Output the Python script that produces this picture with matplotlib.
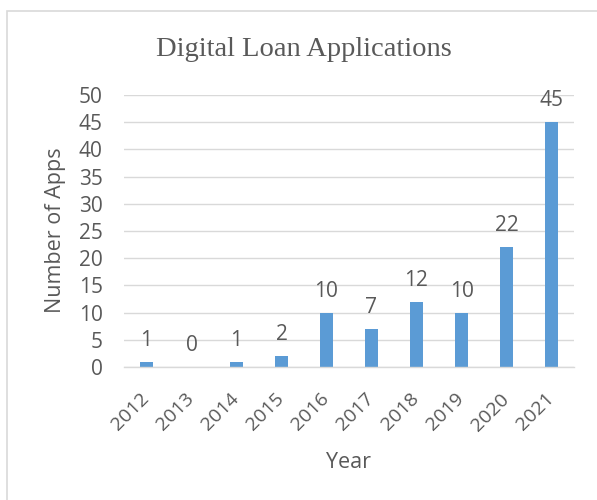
import matplotlib
matplotlib.use("Agg")
import matplotlib.pyplot as plt
from matplotlib.patches import Rectangle

years = ["2012", "2013", "2014", "2015", "2016", "2017", "2018", "2019", "2020", "2021"]
apps = [1, 0, 1, 2, 10, 7, 12, 10, 22, 45]
y_ticks = [0, 5, 10, 15, 20, 25, 30, 35, 40, 45, 50]

txt = "#595959"
grid = "#d9d9d9"
sans = ["Open Sans", "DejaVu Sans"]

fig = plt.figure(figsize=(5.97, 5.0), dpi=100)
ax = fig.add_axes([124 / 597, 1 - 367 / 500, 450 / 597, 272 / 500])

pos = list(range(len(years)))
ax.bar(pos, apps, width=0.31, color="#5b9bd5", zorder=3)

for x, v in zip(pos, apps):
    ax.annotate(str(v), (x, v), xytext=(0, 11.5), textcoords="offset points",
                ha="center", va="baseline", fontsize=15, color=txt, family=sans)

ax.set_xlim(-0.5, len(years) - 0.5)
ax.set_ylim(0, 50)
ax.set_yticks(y_ticks)
ax.set_yticklabels([str(t) for t in y_ticks], family=sans, fontsize=15, color=txt)
ax.set_xticks(pos)
ax.set_xticklabels(years, family=sans, fontsize=14, color=txt,
                   rotation=45, ha="right", va="center", rotation_mode="anchor")
ax.tick_params(axis="y", length=0, pad=15.3)
ax.tick_params(axis="x", length=0, pad=21)

ax.grid(axis="y", color=grid, linewidth=1.0, zorder=0)
for s in ["top", "right", "left"]:
    ax.spines[s].set_visible(False)
ax.spines["bottom"].set_color(grid)
ax.spines["bottom"].set_linewidth(1.0)
ax.spines["bottom"].set_zorder(4)

fig.text(304 / 597, 1 - 56 / 500, "Digital Loan Applications", ha="center", va="baseline",
         fontsize=20.5, color=txt, family=["Liberation Serif", "DejaVu Serif"])
fig.text(349 / 597, 1 - 468 / 500, "Year", ha="center", va="baseline",
         fontsize=15.5, color=txt, family=sans)
fig.text(55 / 597, 1 - 230 / 500, "Number of Apps", ha="center", va="center",
         rotation=90, fontsize=15.5, color=txt, family=sans)

# chart frame, only the top and left edges fall inside the canvas
fig.patches.append(Rectangle((6.5 / 597, -0.2), 2.0, 1.2 - 10.7 / 500, fill=False,
                             edgecolor=grid, linewidth=1.2, transform=fig.transFigure))

fig.savefig("out.png", dpi=100)
